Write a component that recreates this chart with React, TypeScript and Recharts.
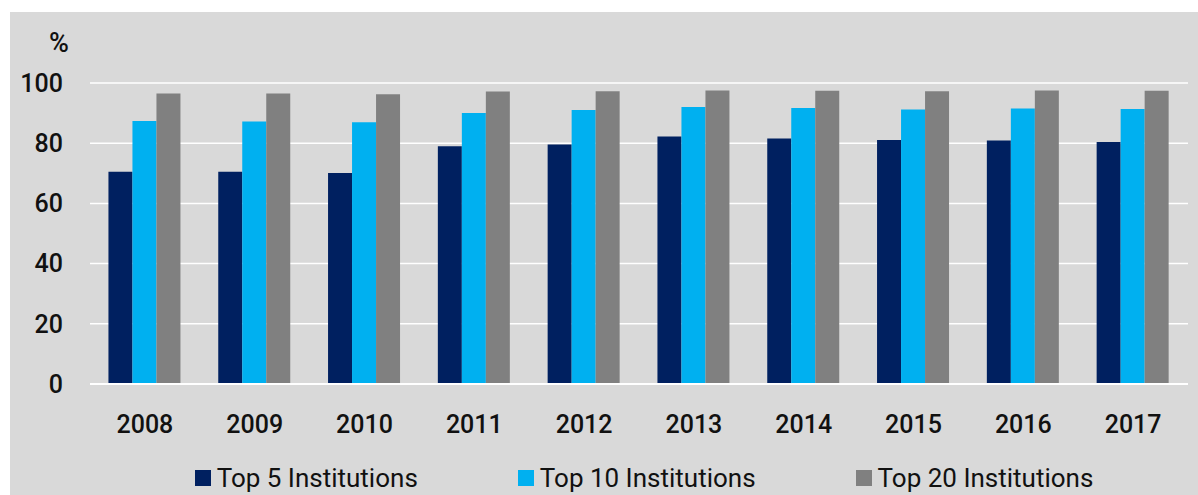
import React from "react";
import { BarChart, Bar, XAxis, YAxis, CartesianGrid, Legend } from "recharts";

const years = ["2008", "2009", "2010", "2011", "2012", "2013", "2014", "2015", "2016", "2017"];
const top5 = [70.5, 70.5, 70.1, 79.0, 79.6, 82.2, 81.6, 81.1, 80.9, 80.4];
const top10 = [87.4, 87.2, 87.0, 90.0, 91.0, 92.0, 91.7, 91.2, 91.5, 91.4];
const top20 = [96.5, 96.5, 96.3, 97.2, 97.3, 97.5, 97.4, 97.3, 97.5, 97.4];
const yTicks = [0, 20, 40, 60, 80, 100];

const series = [
  { key: "top5", name: "Top 5 Institutions", color: "#002060" },
  { key: "top10", name: "Top 10 Institutions", color: "#00B0F0" },
  { key: "top20", name: "Top 20 Institutions", color: "#808080" },
];

const data = years.map((year, i) => ({
  year,
  top5: top5[i],
  top10: top10[i],
  top20: top20[i],
}));

const FONT = "Roboto, 'DejaVu Sans', sans-serif";

// legend row: square + label, wide gaps like the original
const LegendRow = () => (
  <div
    style={{
      display: "flex",
      justifyContent: "center",
      alignItems: "center",
      fontFamily: FONT,
      fontSize: 26,
      color: "#111",
      height: 28,
    }}
  >
    {series.map((s, i) => (
      <div
        key={s.key}
        style={{
          display: "flex",
          alignItems: "center",
          marginRight: i < series.length - 1 ? 100 : 0,
        }}
      >
        <span
          style={{ width: 16, height: 16, background: s.color, marginRight: 6, display: "inline-block" }}
        />
        <span>{s.name}</span>
      </div>
    ))}
  </div>
);

export default function App() {
  return (
    <div
      style={{
        position: "fixed",
        left: 10,
        top: 12,
        width: 1188,
        height: 483,
        background: "#D9D9D9",
      }}
    >
      <div
        style={{
          position: "absolute",
          left: 39,
          top: 15,
          fontFamily: FONT,
          fontWeight: 500,
          fontSize: 27,
          color: "#111",
        }}
      >
        %
      </div>
      <BarChart
        width={1188}
        height={483}
        data={data}
        margin={{ top: 71, right: 10, bottom: 23, left: 0 }}
        barCategoryGap="16.8%"
        barGap={0}
      >
        <CartesianGrid vertical={false} stroke="#FFFFFF" strokeWidth={1.5} />
        <XAxis
          dataKey="year"
          height={60}
          tickSize={0}
          tickMargin={31}
          axisLine={{ stroke: "#FFFFFF", strokeWidth: 2 }}
          tick={{ fontFamily: FONT, fontWeight: 500, fontSize: 25, fill: "#111" }}
        />
        <YAxis
          width={80}
          domain={[0, 100]}
          ticks={yTicks}
          tickSize={0}
          tickMargin={27}
          axisLine={false}
          tick={{ fontFamily: FONT, fontWeight: 500, fontSize: 25, fill: "#111" }}
        />
        <Legend
          verticalAlign="bottom"
          content={() => <LegendRow />}
          wrapperStyle={{ left: 84, width: 1100, bottom: 3 }}
        />
        {series.map((s) => (
          <Bar key={s.key} dataKey={s.key} name={s.name} fill={s.color} isAnimationActive={false} />
        ))}
      </BarChart>
    </div>
  );
}
